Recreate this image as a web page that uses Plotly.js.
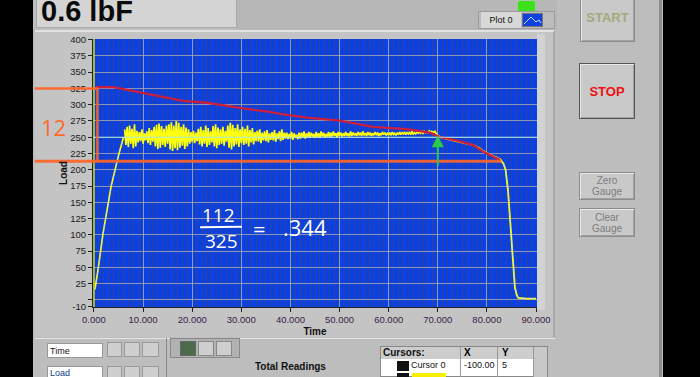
<!DOCTYPE html>
<html>
<head>
<meta charset="utf-8">
<script src="https://cdn.plot.ly/plotly-3.0.1.min.js"></script>
<style>
  html,body{margin:0;padding:0;}
  body{width:700px;height:377px;background:#000;overflow:hidden;position:relative;font-family:"Liberation Sans",Arial,sans-serif;}
  .abs{position:absolute;box-sizing:border-box;}
  .btn{background:#c9c9c9;border:1px solid #8c8c8c;box-shadow:inset 1px 1px 0 #e8e8e8, inset -1px -1px 0 #a0a0a0;text-align:center;}
  .small{font-size:9px;color:#111;}
</style>
</head>
<body>
<!-- LabVIEW front panel background -->
<div class="abs" style="left:33px;top:0;width:630px;height:377px;background:#bdbdbd;"></div>
<div class="abs" style="left:237px;top:0;width:320px;height:30px;background:#b7b7b7;"></div>
<div class="abs" style="left:35px;top:30px;width:520px;height:307px;background:#c4c4c4;border-top:2px solid #e2e2e2;border-right:2px solid #a5a5a5;"></div>
<div class="abs" style="left:537px;top:34px;width:8px;height:276px;background:#d2d2d2;"></div>
<div class="abs" style="left:659px;top:0;width:3px;height:377px;background:#8e8e8e;"></div>
<!-- numeric indicator -->
<div class="abs" style="left:36px;top:-3px;width:201px;height:31px;background:#d4d4d4;border:1px solid #a9a9a9;"></div>
<div class="abs" style="left:41px;top:-3px;font-size:29px;line-height:29px;font-weight:bold;color:#0a0a0a;">0.6 lbF</div>
<!-- LED -->
<div class="abs" style="left:518px;top:1px;width:17px;height:11px;background:#3ee01c;border-radius:2px;box-shadow:0 0 2px #6f6;"></div>
<!-- Plot legend -->
<div class="abs" style="left:478px;top:11px;width:77px;height:18px;background:#bcbcbc;border:1px solid #9c9c9c;"></div>
<div class="abs small" style="left:481px;top:12px;width:40px;height:16px;background:#d8d8d8;line-height:16px;text-align:center;">Plot 0</div>
<div class="abs" style="left:522px;top:13px;width:21px;height:14px;background:#1040e0;border:1px solid #777;">
  <svg width="19" height="12" style="position:absolute;left:0;top:0"><polyline points="1,10 8,3 13,8 16,6 18,9" fill="none" stroke="#c8e0ff" stroke-width="1"/></svg>
</div>
<!-- Buttons -->
<div class="abs btn" style="left:580px;top:-4px;width:55px;height:46px;line-height:42px;font-weight:bold;font-size:13px;color:#a4aa7c;">START</div>
<div class="abs btn" style="left:579px;top:63px;width:56px;height:56px;line-height:56px;font-weight:bold;font-size:13px;color:#ee1111;border:1px solid #555;">STOP</div>
<div class="abs btn" style="left:579px;top:172px;width:56px;height:28px;padding-top:2px;font-size:10px;line-height:11px;color:#7c7c7c;">Zero<br>Gauge</div>
<div class="abs btn" style="left:579px;top:208px;width:56px;height:29px;padding-top:3px;font-size:10px;line-height:11px;color:#7c7c7c;">Clear<br>Gauge</div>
<!-- bottom controls -->
<div class="abs" style="left:35px;top:338px;width:520px;height:1px;background:#e6e6e6;"></div>
<div class="abs" style="left:166px;top:338px;width:1px;height:39px;background:#8a8a8a;"></div>
<div class="abs small" style="left:47px;top:343px;width:56px;height:15px;background:#fff;border:1px solid #999;padding-left:2px;line-height:14px;">Time</div>
<div class="abs small" style="left:47px;top:366px;width:56px;height:11px;background:#fff;border:1px solid #999;border-bottom:none;padding-left:2px;line-height:13px;color:#123a8a;overflow:hidden;">Load</div>
<div class="abs" style="left:107px;top:342px;width:15px;height:15px;background:#cfcfcf;border:1px solid #999;"></div>
<div class="abs" style="left:124px;top:342px;width:16px;height:15px;background:#cfcfcf;border:1px solid #999;"></div>
<div class="abs" style="left:142px;top:342px;width:17px;height:15px;background:#cfcfcf;border:1px solid #999;"></div>
<div class="abs" style="left:107px;top:366px;width:15px;height:15px;background:#cfcfcf;border:1px solid #999;"></div>
<div class="abs" style="left:124px;top:366px;width:16px;height:15px;background:#cfcfcf;border:1px solid #999;"></div>
<div class="abs" style="left:142px;top:366px;width:17px;height:15px;background:#cfcfcf;border:1px solid #999;"></div>
<div class="abs" style="left:170px;top:338px;width:70px;height:20px;background:#b2b2b2;border:1px solid #8a8a8a;"></div>
<div class="abs" style="left:180px;top:341px;width:16px;height:15px;background:#4a6a4a;border:1px solid #666;"></div>
<div class="abs" style="left:198px;top:341px;width:16px;height:15px;background:#cfcfcf;border:1px solid #888;"></div>
<div class="abs" style="left:216px;top:341px;width:16px;height:15px;background:#cfcfcf;border:1px solid #888;"></div>
<div class="abs" style="left:255px;top:361px;font-size:10px;font-weight:bold;color:#111;">Total Readings</div>
<!-- cursors table -->
<div class="abs" style="left:380px;top:346px;width:168px;height:31px;background:#fff;border:1px solid #888;"></div>
<div class="abs" style="left:381px;top:347px;width:152px;height:12px;background:#cdcdcd;"></div>
<div class="abs" style="left:383px;top:346px;font-size:10px;font-weight:bold;line-height:14px;color:#111;">Cursors:</div>
<div class="abs" style="left:460px;top:347px;width:1px;height:30px;background:#999;"></div>
<div class="abs" style="left:497px;top:347px;width:1px;height:30px;background:#999;"></div>
<div class="abs" style="left:464px;top:346px;font-size:10px;font-weight:bold;line-height:14px;">X</div>
<div class="abs" style="left:502px;top:346px;font-size:10px;font-weight:bold;line-height:14px;">Y</div>
<div class="abs" style="left:533px;top:347px;width:14px;height:30px;background:#c8c8c8;border-left:1px solid #999;"></div>
<div class="abs" style="left:397px;top:361px;width:12px;height:10px;background:#111;"></div>
<div class="abs" style="left:397px;top:373px;width:12px;height:10px;background:#111;"></div>
<div class="abs" style="left:412px;top:373px;width:34px;height:10px;background:#f4f000;"></div>
<div class="abs small" style="left:411px;top:359px;line-height:13px;">Cursor 0</div>
<div class="abs small" style="left:464px;top:359px;line-height:13px;">-100.00</div>
<div class="abs small" style="left:502px;top:359px;line-height:13px;">5</div>

<div id="chart" class="abs" style="left:0;top:0;width:700px;height:377px;"></div>

<script>
// ---------------- data ----------------
var rampT    = [0.2, 0.4, 0.9, 1.8, 2.85, 3.5, 5.1, 6.0];
var rampLoad = [16, 25, 50, 100, 150, 175, 225, 250];

var noiseStart = 6.25, noiseStep = 0.25;
var noiseLoad = [
  262,238,266,235,268,240,263,233,270,236,260,242,
  258,244,262,240,256,245,259,241,264,238,261,243,
  266,236,269,232,271,234,267,238,263,235,268,240,
  270,231,273,229,268,233,275,230,272,234,266,237,
  270,232,265,236,262,240,258,243,260,241,257,244,
  263,239,266,236,261,240,268,235,264,238,259,242,
  267,236,270,233,265,238,262,240,266,237,260,243,
  268,234,272,231,269,236,264,239,270,235,262,241,
  266,238,263,240,268,236,261,242,264,239,258,244,
  260,243,262,241,257,245,259,244,261,242,256,246,
  258,245,261,243,256,247,259,244,262,246,257,248,
  257,247,255,248,258,246,256,249,254,247,257,248,
  257,249,259,248,256,250,258,249,257,251,255,249,
  258,250,256,249,259,251,257,250,255,251,258,250,
  257,251,259,252,256,250,258,252,257,251,256,252,
  258,252,256,251,259,252,257,253,256,252,258,253,
  257,252,259,253,256,252,258,253,257,252,256,253,
  258,253,257,252,256,253,258,254,257,253,256,254,
  257,253,258,254,256,253,257,254,258,254,257,255,
  258,254,257,255,258,254,259,255,257,255,258,256,
  258,256,259,256,259,257,258,257,260,257,259,258
];

var tailT    = [69.0, 69.4, 69.8, 70.5, 72.0, 73.9, 75.5, 77.2, 78.5, 79.2, 81.0, 82.7, 83.4, 83.8, 84.3, 84.7, 85.1, 85.4, 85.7, 86.1, 86.4, 88.0, 90.0];
var tailLoad = [257, 259, 254, 250, 247, 244, 241, 238, 233, 229, 222, 216, 209, 200, 168, 125, 81, 45, 19, 7, 3, 2, 2];

var peakT    = [0.4, 3.9, 6.0, 10.8, 14.0, 18.1, 23.0, 29.7, 35.8, 37.9, 43.4, 50.1, 56.8, 63.7, 68.4, 70.5, 73.9, 77.2, 79.2, 82.7];
var peakLoad = [327, 327, 324, 317, 312, 306, 303, 295, 289, 286, 280, 275.5, 266, 262.6, 257, 250, 244.7, 238, 228, 215];

var cursorLoad = 250;
var cursorTime = 0;
var bracketLoads = [325, 213];
var arrowTime = 70;
var arrowLoads = [204, 253];

var xTickVals = [0, 10, 20, 30, 40, 50, 60, 70, 80, 90];
var xTickText = ['0.000','10.000','20.000','30.000','40.000','50.000','60.000','70.000','80.000','90.000'];
var yTickVals = [-10, 0, 25, 50, 75, 100, 125, 150, 175, 200, 225, 250, 275, 300, 325, 350, 375, 400];
var yTickText = ['-10', '', '25', '50', '75', '100', '125', '150', '175', '200', '225', '250', '275', '300', '325', '350', '375', '400'];

// ---------------- traces ----------------
var YEL = '#ffff10';
var traces = [
  {x: rampT, y: rampLoad, mode: 'lines', line: {color: YEL, width: 1.6}, hoverinfo: 'skip'},
  {x0: noiseStart, dx: noiseStep, y: noiseLoad, mode: 'lines', line: {color: YEL, width: 1.7}, hoverinfo: 'skip'},
  {x: tailT, y: tailLoad, mode: 'lines', line: {color: YEL, width: 1.8}, hoverinfo: 'skip'},
  {x: rampT, y: rampLoad, mode: 'lines', line: {color: '#a8d8ff', width: 1, dash: '3px,4px'}, hoverinfo: 'skip'},
  {x: tailT.slice(12), y: tailLoad.slice(12), mode: 'lines', line: {color: '#a8d8ff', width: 1, dash: '3px,4px'}, hoverinfo: 'skip'},
  {x: peakT, y: peakLoad, mode: 'lines', line: {color: '#cc1e3e', width: 2.3}, hoverinfo: 'skip'}
];

var tickFont = {family: 'Liberation Sans, Arial, sans-serif', size: 9.5, color: '#1a1a1a'};

var layout = {
  width: 700, height: 377,
  margin: {l: 93, r: 163, t: 39, b: 70, pad: 0},
  paper_bgcolor: 'rgba(0,0,0,0)',
  plot_bgcolor: '#0b40e2',
  showlegend: false,
  xaxis: {
    range: [-0.2, 90.2], tickvals: xTickVals, ticktext: xTickText,
    ticks: 'outside', ticklen: 4, tickcolor: '#222', showline: true, linecolor: '#222', linewidth: 1,
    showgrid: true, gridcolor: 'rgba(175,170,140,0.85)', gridwidth: 1, zeroline: false,
    minor: {dtick: 1, tick0: 0, showgrid: true, gridcolor: 'rgba(70,70,110,0.6)', gridwidth: 1, ticks: ''},
    tickfont: {family: tickFont.family, size: 9.5, color: '#3a2048'},
    title: {text: 'Time', font: {family: 'Liberation Sans, Arial, sans-serif', size: 10, color: '#111', weight: 'bold'}, standoff: 3}
  },
  yaxis: {
    range: [-11, 401], tickvals: yTickVals, ticktext: yTickText,
    ticks: 'outside', ticklen: 4, tickcolor: '#222', showline: true, linecolor: '#222', linewidth: 1,
    showgrid: true, gridcolor: 'rgba(165,165,175,0.85)', gridwidth: 1, zeroline: false,
    tickfont: tickFont,
    title: {text: 'Load', font: {family: 'Liberation Sans, Arial, sans-serif', size: 10, color: '#111', weight: 'bold'}, standoff: 0}
  },
  shapes: [
    // LabVIEW cursors
    {type: 'line', xref: 'x', yref: 'paper', x0: cursorTime, x1: cursorTime, y0: 0, y1: 1, line: {color: '#d8e000', width: 1.5}, layer: 'above'},
    {type: 'line', xref: 'paper', yref: 'y', x0: 0, x1: 1, y0: cursorLoad, y1: cursorLoad, line: {color: '#a8e6e0', width: 1}, layer: 'above'},
    // hand-drawn orange bracket
    {type: 'line', xref: 'paper', yref: 'y', x0: -0.131, x1: 0.011, y0: bracketLoads[0], y1: bracketLoads[0], line: {color: 'rgba(255,100,40,0.92)', width: 2.5}, layer: 'above'},
    {type: 'line', xref: 'paper', yref: 'y', x0: 0.010, x1: 0.010, y0: bracketLoads[0], y1: bracketLoads[1], line: {color: 'rgba(255,100,40,0.92)', width: 2.5}, layer: 'above'},
    {type: 'line', xref: 'paper', yref: 'y', x0: -0.131, x1: 0.92, y0: bracketLoads[1], y1: bracketLoads[1], line: {color: 'rgba(255,100,40,0.92)', width: 3}, layer: 'above'},
    // fraction bar
    {type: 'line', xref: 'x', yref: 'y', x0: 21.6, x1: 30.1, y0: 111.5, y1: 112.5, line: {color: '#ffffff', width: 2}, layer: 'above'}
  ],
  annotations: [
    {xref: 'paper', yref: 'y', x: -0.09, y: 266, xanchor: 'center', yanchor: 'middle', text: '12', showarrow: false, font: {family: 'Open Sans, sans-serif', size: 22, color: '#ff6a2a'}},
    {xref: 'x', yref: 'y', x: 25.4, y: 130, text: '112', showarrow: false, font: {family: 'Open Sans, sans-serif', size: 19, color: '#ffffff'}},
    {xref: 'x', yref: 'y', x: 25.9, y: 90, text: '325', showarrow: false, font: {family: 'Open Sans, sans-serif', size: 19, color: '#ffffff'}},
    {xref: 'x', yref: 'y', x: 33.6, y: 111, text: '=', showarrow: false, font: {family: 'Open Sans, sans-serif', size: 22, color: '#ffffff'}},
    {xref: 'x', yref: 'y', x: 43.0, y: 112, text: '.344', showarrow: false, font: {family: 'Open Sans, sans-serif', size: 22, color: '#ffffff'}},
    {xref: 'x', yref: 'y', axref: 'x', ayref: 'y', x: arrowTime, y: arrowLoads[1], ax: arrowTime, ay: arrowLoads[0], text: '', showarrow: true, arrowhead: 2, arrowsize: 1.2, arrowwidth: 2, arrowcolor: '#2cc84a'}
  ]
};

Plotly.newPlot('chart', traces, layout, {staticPlot: true, displayModeBar: false});
</script>
</body>
</html>
